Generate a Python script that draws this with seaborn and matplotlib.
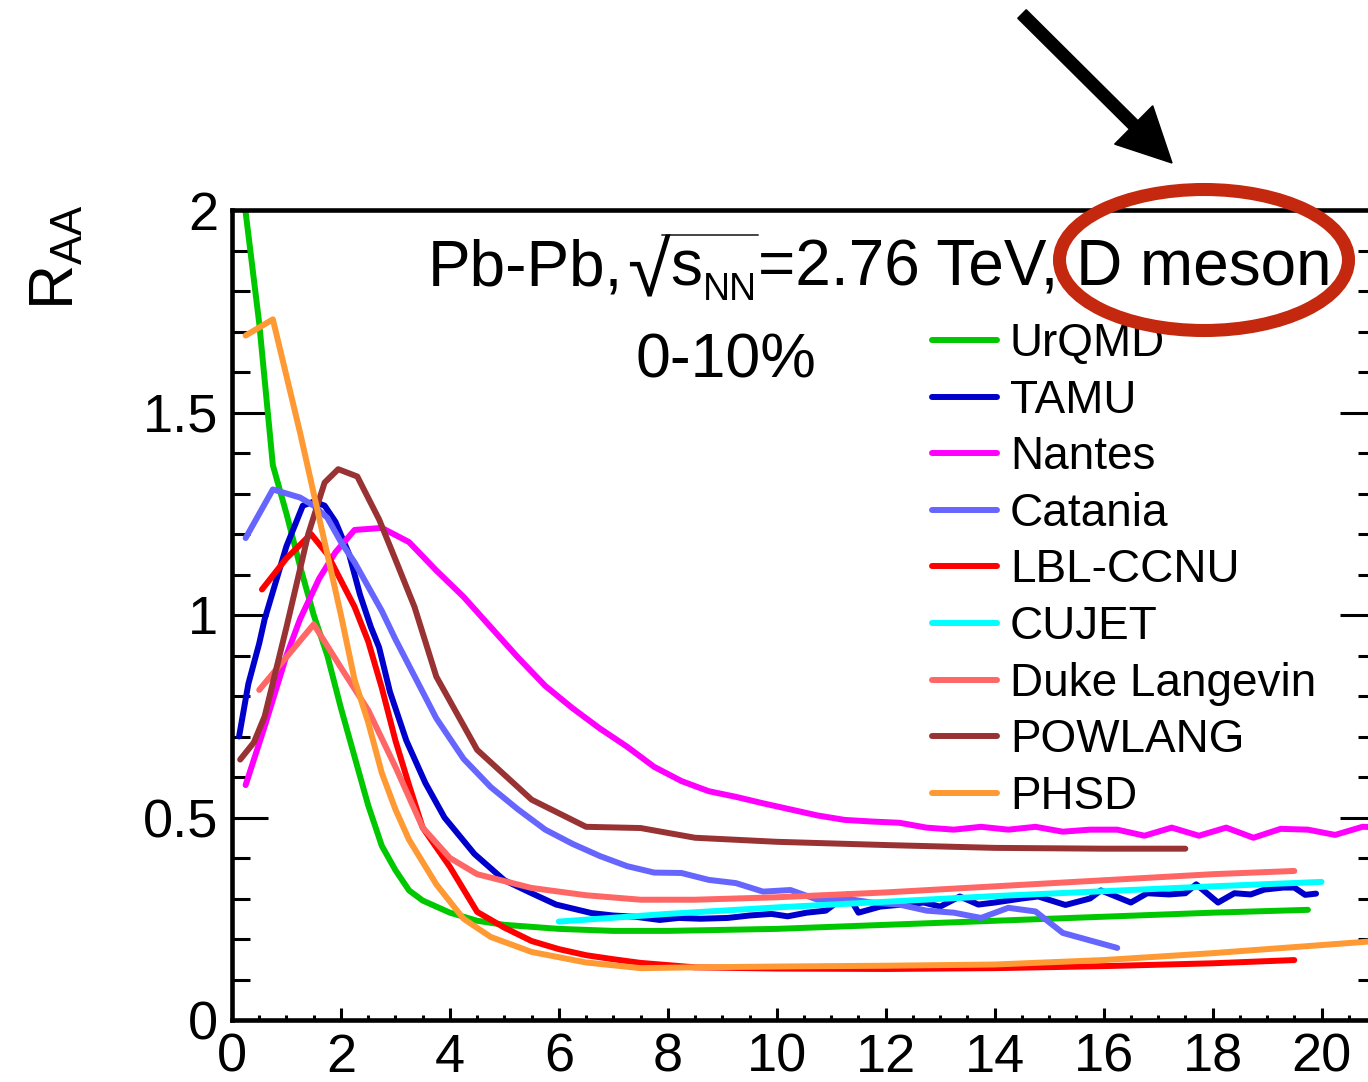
import numpy as np
import pandas as pd
import matplotlib
matplotlib.use('Agg')
import matplotlib.pyplot as plt
import seaborn as sns
import matplotlib.transforms as mtransforms
from matplotlib.patches import Ellipse, FancyArrow
from matplotlib.lines import Line2D
from matplotlib.ticker import MultipleLocator, FuncFormatter

# ---------------- data ----------------
models = ["UrQMD", "TAMU", "Nantes", "Catania", "LBL-CCNU", "CUJET",
          "Duke Langevin", "POWLANG", "PHSD"]
colors = ["#00C800", "#0000CC", "#FF00FF", "#6666FF", "#FF0000", "#00FFFF",
          "#FF6666", "#993333", "#FF9933"]

urqmd_x = [0.2, 0.5, 0.75, 1.0, 1.25, 1.5, 1.75, 2.0, 2.25, 2.5, 2.75, 3.0, 3.25, 3.5,
           4.0, 4.5, 5.0, 6.0, 7.0, 8.0, 10.0, 12.0, 14.0, 16.0, 18.0, 19.75]
urqmd_y = [2.05, 1.72, 1.37, 1.25, 1.12, 1.0, 0.9, 0.77, 0.65, 0.53, 0.43, 0.37, 0.32, 0.295,
           0.265, 0.245, 0.235, 0.225, 0.22, 0.22, 0.225, 0.235, 0.245, 0.255, 0.265, 0.272]

tamu_x = [0.13, 0.3, 0.5, 0.6, 0.8, 1.0, 1.15, 1.3, 1.5, 1.7, 1.9, 2.15, 2.35, 2.55, 2.7, 2.9,
          3.2, 3.55, 3.9, 4.45, 5.0, 5.5, 5.95, 6.6, 7.0, 7.4, 7.85, 8.2, 8.6, 9.1, 9.5, 9.9,
          10.2, 10.55, 10.9, 11.3, 11.5, 11.9, 12.3, 12.7, 13.0, 13.36, 13.7, 14.0, 14.5, 14.8,
          15.3, 15.75, 15.95, 16.5, 16.8, 17.2, 17.5, 17.7, 18.1, 18.4, 18.7, 18.95, 19.3,
          19.5, 19.7, 19.9]
tamu_y = [0.70, 0.83, 0.93, 0.99, 1.08, 1.17, 1.22, 1.27, 1.28, 1.27, 1.23, 1.15, 1.05, 0.97,
          0.92, 0.81, 0.69, 0.585, 0.50, 0.41, 0.345, 0.313, 0.285, 0.264, 0.258, 0.255, 0.247,
          0.252, 0.25, 0.252, 0.258, 0.262, 0.256, 0.265, 0.27, 0.31, 0.265, 0.28, 0.285, 0.29,
          0.28, 0.305, 0.285, 0.29, 0.30, 0.305, 0.284, 0.30, 0.32, 0.29, 0.313, 0.31, 0.313,
          0.335, 0.29, 0.313, 0.31, 0.322, 0.327, 0.327, 0.309, 0.312]

nantes_x = [0.25, 0.6, 1.0, 1.25, 1.6, 1.9, 2.25, 2.75, 3.25, 3.75, 4.25, 4.75, 5.25, 5.75,
            6.25, 6.75, 7.25, 7.75, 8.25, 8.75, 9.25, 9.75, 10.25, 10.75, 11.25, 11.75, 12.25,
            12.75, 13.25, 13.75, 14.25, 14.75, 15.25, 15.75, 16.25, 16.75, 17.25, 17.75, 18.25,
            18.75, 19.25, 19.75, 20.25, 20.75, 21.25]
nantes_y = [0.58, 0.725, 0.90, 0.99, 1.09, 1.155, 1.21, 1.215, 1.18, 1.11, 1.045, 0.97, 0.895,
            0.825, 0.77, 0.72, 0.675, 0.625, 0.59, 0.565, 0.551, 0.535, 0.52, 0.505, 0.494, 0.49,
            0.487, 0.475, 0.47, 0.477, 0.47, 0.477, 0.465, 0.47, 0.47, 0.455, 0.475, 0.455,
            0.475, 0.45, 0.472, 0.47, 0.457, 0.477, 0.475]

catania_x = [0.25, 0.75, 1.25, 1.5, 1.75, 2.0, 2.25, 2.5, 2.75, 3.0, 3.25, 3.5, 3.75, 4.25,
             4.75, 5.25, 5.75, 6.25, 6.75, 7.25, 7.75, 8.25, 8.75, 9.25, 9.75, 10.25, 10.75,
             11.25, 11.75, 12.25, 12.75, 13.25, 13.75, 14.25, 14.75, 15.25, 16.25]
catania_y = [1.19, 1.31, 1.29, 1.27, 1.24, 1.18, 1.13, 1.07, 1.01, 0.94, 0.875, 0.81, 0.745,
             0.645, 0.575, 0.52, 0.47, 0.435, 0.405, 0.38, 0.364, 0.363, 0.346, 0.338, 0.317,
             0.321, 0.297, 0.30, 0.29, 0.285, 0.27, 0.265, 0.252, 0.277, 0.268, 0.215, 0.178]

lbl_x = [0.55, 1.0, 1.45, 1.75, 2.0, 2.25, 2.5, 2.75, 3.0, 3.25, 3.5, 4.0, 4.5, 5.0, 5.5,
         6.0, 6.5, 7.0, 7.5, 8.5, 10.0, 12.0, 14.0, 16.0, 18.0, 19.5]
lbl_y = [1.063, 1.14, 1.20, 1.15, 1.085, 1.02, 0.935, 0.82, 0.69, 0.58, 0.475, 0.378, 0.267,
         0.228, 0.195, 0.175, 0.16, 0.15, 0.141, 0.13, 0.127, 0.126, 0.128, 0.133, 0.14, 0.148]

cujet_x = [6.0, 8.0, 10.0, 12.0, 14.0, 16.0, 18.0, 20.0]
cujet_y = [0.243, 0.262, 0.278, 0.292, 0.306, 0.318, 0.330, 0.341]

duke_x = [0.5, 1.5, 2.0, 2.5, 3.0, 3.5, 4.0, 4.5, 5.5, 6.5, 7.5, 8.5, 10.0, 12.0, 14.0, 16.0,
          18.0, 19.5]
duke_y = [0.815, 0.977, 0.87, 0.765, 0.625, 0.475, 0.40, 0.36, 0.326, 0.308, 0.297, 0.297,
          0.303, 0.315, 0.33, 0.345, 0.36, 0.368]

powlang_x = [0.15, 0.4, 0.6, 1.0, 1.4, 1.7, 1.95, 2.3, 2.7, 3.0, 3.35, 3.75, 4.5, 5.5, 6.5,
             7.5, 8.5, 10.0, 12.0, 14.0, 16.0, 17.5]
powlang_y = [0.643, 0.685, 0.75, 0.97, 1.20, 1.327, 1.36, 1.342, 1.236, 1.137, 1.02, 0.848,
             0.667, 0.544, 0.477, 0.474, 0.45, 0.44, 0.432, 0.425, 0.423, 0.423]

phsd_x = [0.25, 0.75, 1.25, 1.75, 2.0, 2.25, 2.5, 2.75, 3.0, 3.25, 3.75, 4.25, 4.75, 5.5, 6.5,
          7.5, 8.5, 10.0, 12.0, 14.0, 16.0, 18.0, 20.0, 21.2]
phsd_y = [1.69, 1.73, 1.45, 1.15, 1.0, 0.84, 0.735, 0.61, 0.52, 0.445, 0.335, 0.25, 0.205,
          0.168, 0.142, 0.128, 0.13, 0.132, 0.134, 0.137, 0.148, 0.165, 0.185, 0.197]

x_lists = [urqmd_x, tamu_x, nantes_x, catania_x, lbl_x, cujet_x, duke_x, powlang_x, phsd_x]
y_lists = [urqmd_y, tamu_y, nantes_y, catania_y, lbl_y, cujet_y, duke_y, powlang_y, phsd_y]

title_left = "Pb-Pb,"
title_root = "\u221a"
title_s = "s"
title_sub = "NN"
title_right = "=2.76 TeV, D meson"
cent_text = "0-10%"
ylabel_text = r"R$_{\mathrm{AA}}$"

# ---------------- style ----------------
sns.set_style("ticks")
plt.rcParams["font.family"] = ["Liberation Sans", "DejaVu Sans"]
plt.rcParams["mathtext.fontset"] = "custom"
plt.rcParams["mathtext.rm"] = "Liberation Sans"
plt.rcParams["mathtext.it"] = "Liberation Sans:italic"
plt.rcParams["mathtext.sf"] = "Liberation Sans"
for k in ["text.color", "axes.labelcolor", "xtick.color", "ytick.color", "axes.edgecolor"]:
    plt.rcParams[k] = "black"

W, H = 1368, 1082
fig = plt.figure(figsize=(W / 100, H / 100), dpi=100)
fig.patch.set_facecolor("white")
ax = fig.add_axes([232 / W, (H - 1020) / H, 1144 / W, 810 / H])
pix = mtransforms.Affine2D().scale(1 / W, 1 / H) + fig.transFigure

frames = [pd.DataFrame({"pt": xs, "raa": ys, "model": m})
          for m, xs, ys in zip(models, x_lists, y_lists)]
df = pd.concat(frames, ignore_index=True)

sns.lineplot(data=df, x="pt", y="raa", hue="model", hue_order=models,
             palette=dict(zip(models, colors)), estimator=None, sort=True,
             lw=4.3, ax=ax, legend=True)

ax.set_xlim(0, 21)
ax.set_ylim(0, 2)
ax.set_xlabel("")
ax.set_ylabel("")

ax.xaxis.set_major_locator(MultipleLocator(2))
ax.xaxis.set_minor_locator(MultipleLocator(0.5))
ax.yaxis.set_major_locator(MultipleLocator(0.5))
ax.yaxis.set_minor_locator(MultipleLocator(0.1))
fmt = FuncFormatter(lambda v, p: "%g" % v)
ax.xaxis.set_major_formatter(fmt)
ax.yaxis.set_major_formatter(fmt)

ax.tick_params(axis="y", which="major", direction="in", length=26, width=2.2,
               left=True, right=True, labelsize=39, pad=10, colors="black")
ax.tick_params(axis="y", which="minor", direction="in", length=13, width=2.2,
               left=True, right=True, colors="black")
ax.tick_params(axis="x", which="major", direction="in", length=8.6, width=2.2,
               bottom=True, top=False, labelsize=39, pad=9, colors="black")
ax.tick_params(axis="x", which="minor", direction="in", length=3.6, width=2.2,
               bottom=True, top=False, colors="black")
for s in ax.spines.values():
    s.set_linewidth(3.3)
    s.set_color("black")

handles, labels = ax.get_legend_handles_labels()
leg = ax.legend(handles, labels, loc="upper left",
                bbox_to_anchor=(932 / W, 1 - 322 / H), bbox_transform=fig.transFigure,
                frameon=False, fontsize=33, handlelength=1.42, handletextpad=0.28,
                labelspacing=0.275, borderpad=0, borderaxespad=0)
for ln in leg.get_lines():
    ln.set_linewidth(4.3)
for t in leg.get_texts():
    t.set_color("black")

# header text, composed piece by piece (pixel positions, y from top)
def ftext(x, y, s, **kw):
    return fig.text(x / W, 1 - y / H, s, ha="left", va="baseline", **kw)

ftext(428, 285, title_left, fontsize=46)
ftext(627, 296, title_root, fontsize=56, family=["Liberation Sans", "DejaVu Sans"])
ftext(670, 285, title_s, fontsize=46)
ftext(703, 300, title_sub, fontsize=27)
ftext(758, 285, title_right, fontsize=46)
fig.add_artist(Line2D([662, 758], [H - 235, H - 235], lw=1.4, color="#444444",
                      transform=pix))
ftext(635, 378, cent_text, fontsize=45)
fig.text(57 / W, 1 - 257 / H, ylabel_text, fontsize=45, rotation=90,
         ha="center", va="center")

# annotation: red ellipse and black arrow (pixel coordinates)
ell = Ellipse((1204, H - 260), 289, 141, fill=False, lw=9.4,
              edgecolor="#C4280E", transform=pix)
fig.add_artist(ell)
arr = FancyArrow(1022, H - 14, 150, -149, width=12, head_width=54, head_length=54,
                 length_includes_head=True, color="black", transform=pix)
fig.add_artist(arr)

fig.savefig("out.png", dpi=100)
